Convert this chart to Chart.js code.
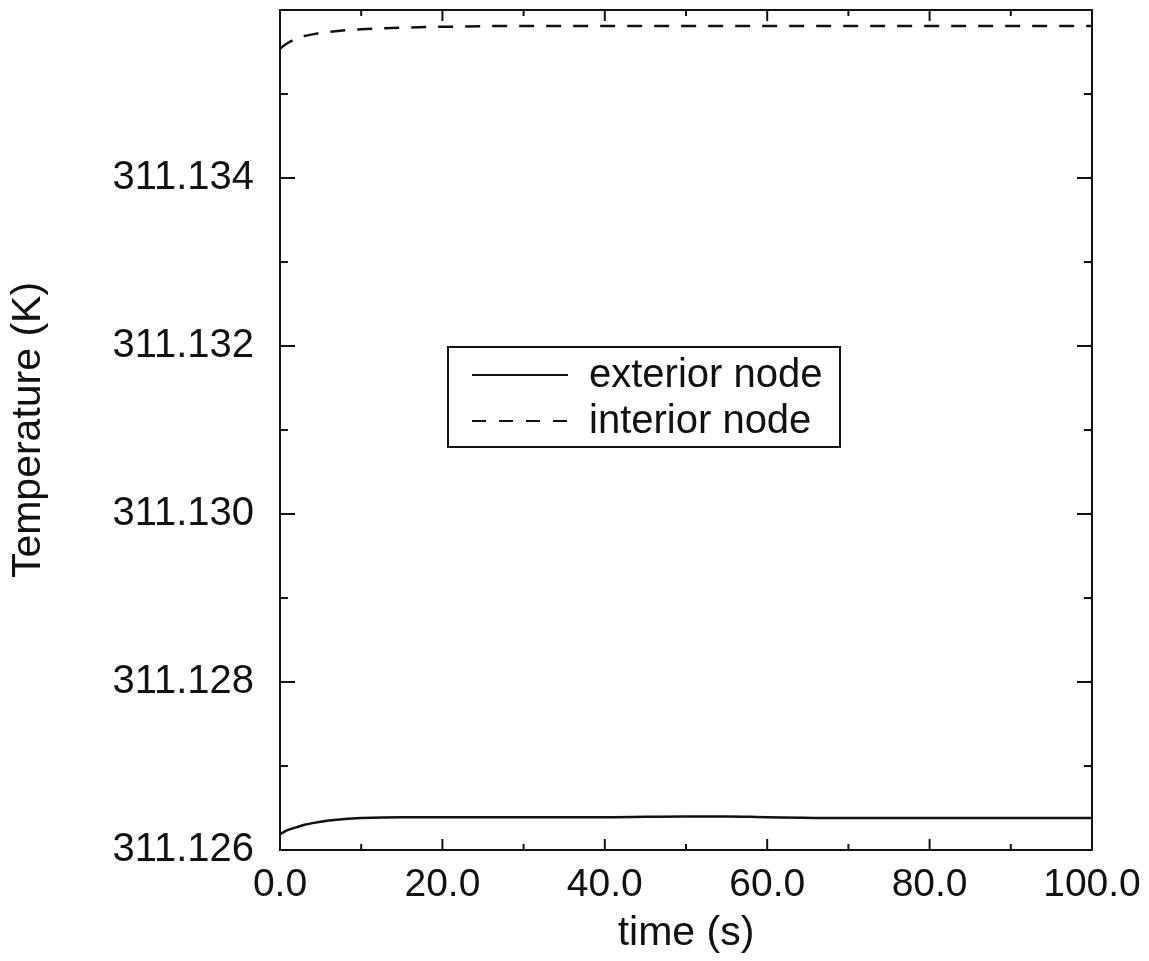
<!DOCTYPE html>
<html>
<head>
<meta charset="utf-8">
<script src="https://cdn.jsdelivr.net/npm/chart.js@4/dist/chart.umd.min.js"></script>
<style>
  html, body { margin:0; padding:0; background:#fff; }
  #wrap { width:1149px; height:961px; }
</style>
</head>
<body>
<div id="wrap"><canvas id="tempChart" width="1149" height="961"></canvas></div>
<script>
// values
const times = [0, 1, 2, 3, 4, 6, 8, 10, 15, 20, 30, 40, 50, 55, 60, 70, 80, 90, 100];
const exteriorNode = [311.12619, 311.12624, 311.12627, 311.12630, 311.12632, 311.12635, 311.12637, 311.12638, 311.12639, 311.12639,
  311.12639, 311.12639, 311.12640, 311.12640, 311.12639, 311.12638, 311.12638, 311.12638, 311.12638];
const interiorNode = [311.13554, 311.13561, 311.13566, 311.13569, 311.13571, 311.13574, 311.13576, 311.13577, 311.13579, 311.13580,
  311.13581, 311.13581, 311.13581, 311.13581, 311.13581, 311.13581, 311.13581, 311.13581, 311.13581];
const seriesLabels = ['exterior node', 'interior node'];
const xTitle = 'time (s)';
const yTitle = 'Temperature (K)';
const yMin = 311.126, yMax = 311.136;
const xMin = 0, xMax = 100;

(function(){
  const ink = '#111';
  const font = '"Liberation Sans", Arial, Helvetica, sans-serif';
  const pts = (vals)=> times.map((t, i)=> ({ x: t, y: vals[i] }));
  const isMajorY = (v)=> Math.round(v * 1000) % 2 === 0;
  const isMajorX = (v)=> Math.round(v) % 20 === 0;

  // box frame + inward tick marks on all four sides
  const frameTicks = {
    id: 'frameTicks',
    afterDatasetsDraw(chart){
      const { ctx, chartArea: a, scales: { x, y } } = chart;
      const seg = (x1, y1, x2, y2)=>{ ctx.beginPath(); ctx.moveTo(x1, y1); ctx.lineTo(x2, y2); ctx.stroke(); };
      ctx.save();
      ctx.strokeStyle = ink;
      ctx.lineWidth = 2;
      ctx.strokeRect(a.left, a.top, a.width, a.height);
      y.ticks.forEach(t=>{
        const py = y.getPixelForValue(t.value);
        const len = isMajorY(t.value) ? 15 : 8;
        seg(a.left, py, a.left + len, py);
        seg(a.right, py, a.right - len, py);
      });
      x.ticks.forEach(t=>{
        const px = x.getPixelForValue(t.value);
        const len = isMajorX(t.value) ? 11 : 6;
        seg(px, a.bottom, px, a.bottom - len);
        seg(px, a.top, px, a.top + len);
      });
      ctx.restore();
    }
  };

  // boxed legend sitting inside the plot
  const boxLegend = {
    id: 'boxLegend',
    afterDraw(chart){
      const { ctx } = chart;
      const box = { left: 448, top: 347, width: 392, height: 100 };
      ctx.save();
      ctx.strokeStyle = ink;
      ctx.lineWidth = 2;
      ctx.fillStyle = '#fff';
      ctx.fillRect(box.left, box.top, box.width, box.height);
      ctx.strokeRect(box.left, box.top, box.width, box.height);
      ctx.font = `40px ${font}`;
      ctx.textBaseline = 'middle';
      chart.data.datasets.forEach((ds, i)=>{
        const rowY = box.top + 28 + i * 46;
        ctx.lineWidth = 2;
        ctx.setLineDash(ds.borderDash && ds.borderDash.length ? [14, 13] : []);
        ctx.beginPath();
        ctx.moveTo(box.left + 24, rowY);
        ctx.lineTo(box.left + 120, rowY);
        ctx.stroke();
        ctx.setLineDash([]);
        ctx.fillStyle = ink;
        ctx.fillText(ds.label, box.left + 141, rowY + 1);
      });
      ctx.restore();
    }
  };

  new Chart(document.getElementById('tempChart'), {
    type: 'line',
    data: {
      datasets: [
        {
          label: seriesLabels[0],
          data: pts(exteriorNode),
          borderColor: ink,
          borderWidth: 2.5,
          pointRadius: 0,
          cubicInterpolationMode: 'monotone',
          fill: false
        },
        {
          label: seriesLabels[1],
          data: pts(interiorNode),
          borderColor: ink,
          borderWidth: 2.5,
          borderDash: [15, 12],
          pointRadius: 0,
          cubicInterpolationMode: 'monotone',
          fill: false
        }
      ]
    },
    options: {
      responsive: false,
      animation: false,
      layout: { padding: { left: 4, top: 10, right: 57, bottom: 3 } },
      plugins: {
        legend: { display: false },
        tooltip: { enabled: false }
      },
      scales: {
        x: {
          type: 'linear',
          min: xMin,
          max: xMax,
          grid: { display: false, drawTicks: false },
          border: { display: false },
          ticks: {
            stepSize: 10,
            autoSkip: false,
            maxRotation: 0,
            padding: 12,
            color: ink,
            font: { family: font, size: 39 },
            callback: (v)=> isMajorX(v) ? Number(v).toFixed(1) : ''
          },
          title: {
            display: true,
            text: xTitle,
            color: ink,
            padding: 0,
            font: { family: font, size: 41 }
          },
          afterFit: (scale)=>{
            scale.height = 108;
            scale.paddingLeft = 0;
            scale.paddingRight = 0;
          }
        },
        y: {
          type: 'linear',
          min: yMin,
          max: yMax,
          grid: { display: false, drawTicks: false },
          border: { display: false },
          ticks: {
            stepSize: 0.001,
            autoSkip: false,
            padding: 26,
            color: ink,
            font: { family: font, size: 40 },
            callback: (v)=> (isMajorY(v) && v < yMax - 0.0005) ? Number(v).toFixed(3) : ''
          },
          title: {
            display: true,
            text: yTitle,
            color: ink,
            padding: 0,
            font: { family: font, size: 41 }
          },
          afterFit: (scale)=>{
            scale.width = 276;
            scale.paddingTop = 0;
            scale.paddingBottom = 0;
          }
        }
      }
    },
    plugins: [frameTicks, boxLegend]
  });
})();
</script>
</body>
</html>
